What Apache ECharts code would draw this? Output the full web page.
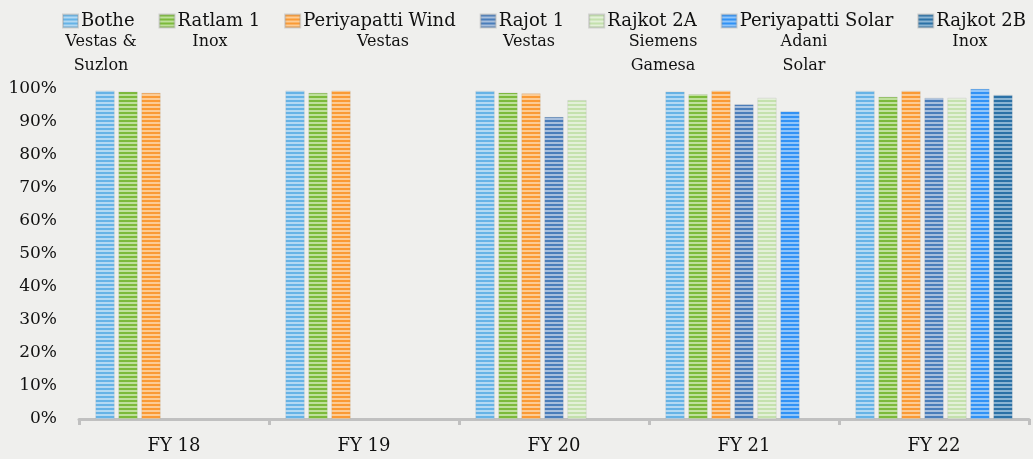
<!DOCTYPE html>
<html>
<head>
<meta charset="utf-8">
<style>
  html, body { margin: 0; padding: 0; background: #efefed; }
  #chart { width: 1033px; height: 459px; }
</style>
<script src="https://cdn.jsdelivr.net/npm/echarts@6/dist/echarts.min.js"></script>
</head>
<body>
<div id="chart"></div>
<script>
// Plant availability by financial year (%)
const categories = ['FY 18', 'FY 19', 'FY 20', 'FY 21', 'FY 22'];
const plantNames = ['Bothe', 'Ratlam 1', 'Periyapatti Wind', 'Rajot 1', 'Rajkot 2A', 'Periyapatti Solar', 'Rajkot 2B'];
const suppliers = ['Vestas &\nSuzlon', 'Inox', 'Vestas', 'Vestas', 'Siemens\nGamesa', 'Adani\nSolar', 'Inox'];

const bothe            = [99.5, 99.5, 99.4, 99.2, 99.4];
const ratlam1          = [99.2, 98.8, 98.9, 98.4, 97.6];
const periyapattiWind  = [98.8, 99.5, 98.6, 99.5, 99.4];
const rajot1           = [null, null, 91.5, 95.3, 97.3];
const rajkot2A         = [null, null, 96.6, 97.3, 97.3];
const periyapattiSolar = [null, null, null, 93.2, 100.0];
const rajkot2B         = [null, null, null, null, 98.2];

const yTicks = { min: 0, max: 100, interval: 10 };

const seriesValues = [bothe, ratlam1, periyapattiWind, rajot1, rajkot2A, periyapattiSolar, rajkot2B];

// Two-tone horizontal stripe fills [dark, light]
const stripeColors = [
  ['#66b3e6', '#b3d9f3'],
  ['#7cba3b', '#bfe09c'],
  ['#fa9a35', '#fdcc95'],
  ['#4a7dba', '#a8bfdd'],
  ['#c4e1ad', '#e3f0d8'],
  ['#3192f5', '#90c5fa'],
  ['#2b71a6', '#8ab4d3']
];

function stripes(dark, light) {
  const c = document.createElement('canvas');
  c.width = 4; c.height = 4;
  const ctx = c.getContext('2d');
  ctx.fillStyle = light;
  ctx.fillRect(0, 0, 4, 4);
  ctx.fillStyle = dark;
  ctx.fillRect(0, 0, 4, 2);
  return { image: c, repeat: 'repeat' };
}

const FONT = '"DejaVu Serif", serif';

// Supplier captions under each legend entry: centre x of each caption
const captionX = [101, 210, 383, 529, 663, 804, 970];

const chart = echarts.init(document.getElementById('chart'), null, { renderer: 'canvas' });

chart.setOption({
  backgroundColor: '#efefed',
  animation: false,
  grid: { left: 79, right: 4, top: 89, bottom: 40, containLabel: false },
  legend: {
    top: 12,
    left: 62,
    width: 1000,
    padding: 0,
    itemWidth: 15,
    itemHeight: 13,
    itemGap: 24,
    icon: 'rect',
    textStyle: { fontFamily: FONT, fontSize: 18, color: '#111', padding: [0, 0, 0, -2] },
    data: plantNames
  },
  graphic: suppliers.map((s, i) => ({
    type: 'text',
    x: captionX[i],
    y: 30,
    style: {
      text: s,
      fontFamily: FONT,
      fontSize: 16,
      lineHeight: 24,
      fill: '#111',
      align: 'center',
      verticalAlign: 'top'
    }
  })),
  xAxis: {
    type: 'category',
    data: categories,
    axisLine: { lineStyle: { color: '#c0c0c0', width: 3 } },
    axisTick: { show: true, length: 6, lineStyle: { color: '#c0c0c0', width: 3 } },
    axisLabel: { fontFamily: FONT, fontSize: 18, color: '#111', margin: 18 }
  },
  yAxis: {
    type: 'value',
    min: yTicks.min,
    max: yTicks.max,
    interval: yTicks.interval,
    axisLine: { show: false },
    axisTick: { show: false },
    splitLine: { show: false },
    axisLabel: { fontFamily: FONT, fontSize: 17, color: '#111', margin: 22, formatter: '{value}%' }
  },
  series: plantNames.map((name, i) => ({
    name: name,
    type: 'bar',
    data: seriesValues[i],
    barWidth: 19,
    barGap: '21%',
    itemStyle: {
      color: stripes(stripeColors[i][0], stripeColors[i][1]),
      borderColor: 'rgba(150,150,150,0.35)',
      borderWidth: 0.5
    }
  }))
});
</script>
</body>
</html>
